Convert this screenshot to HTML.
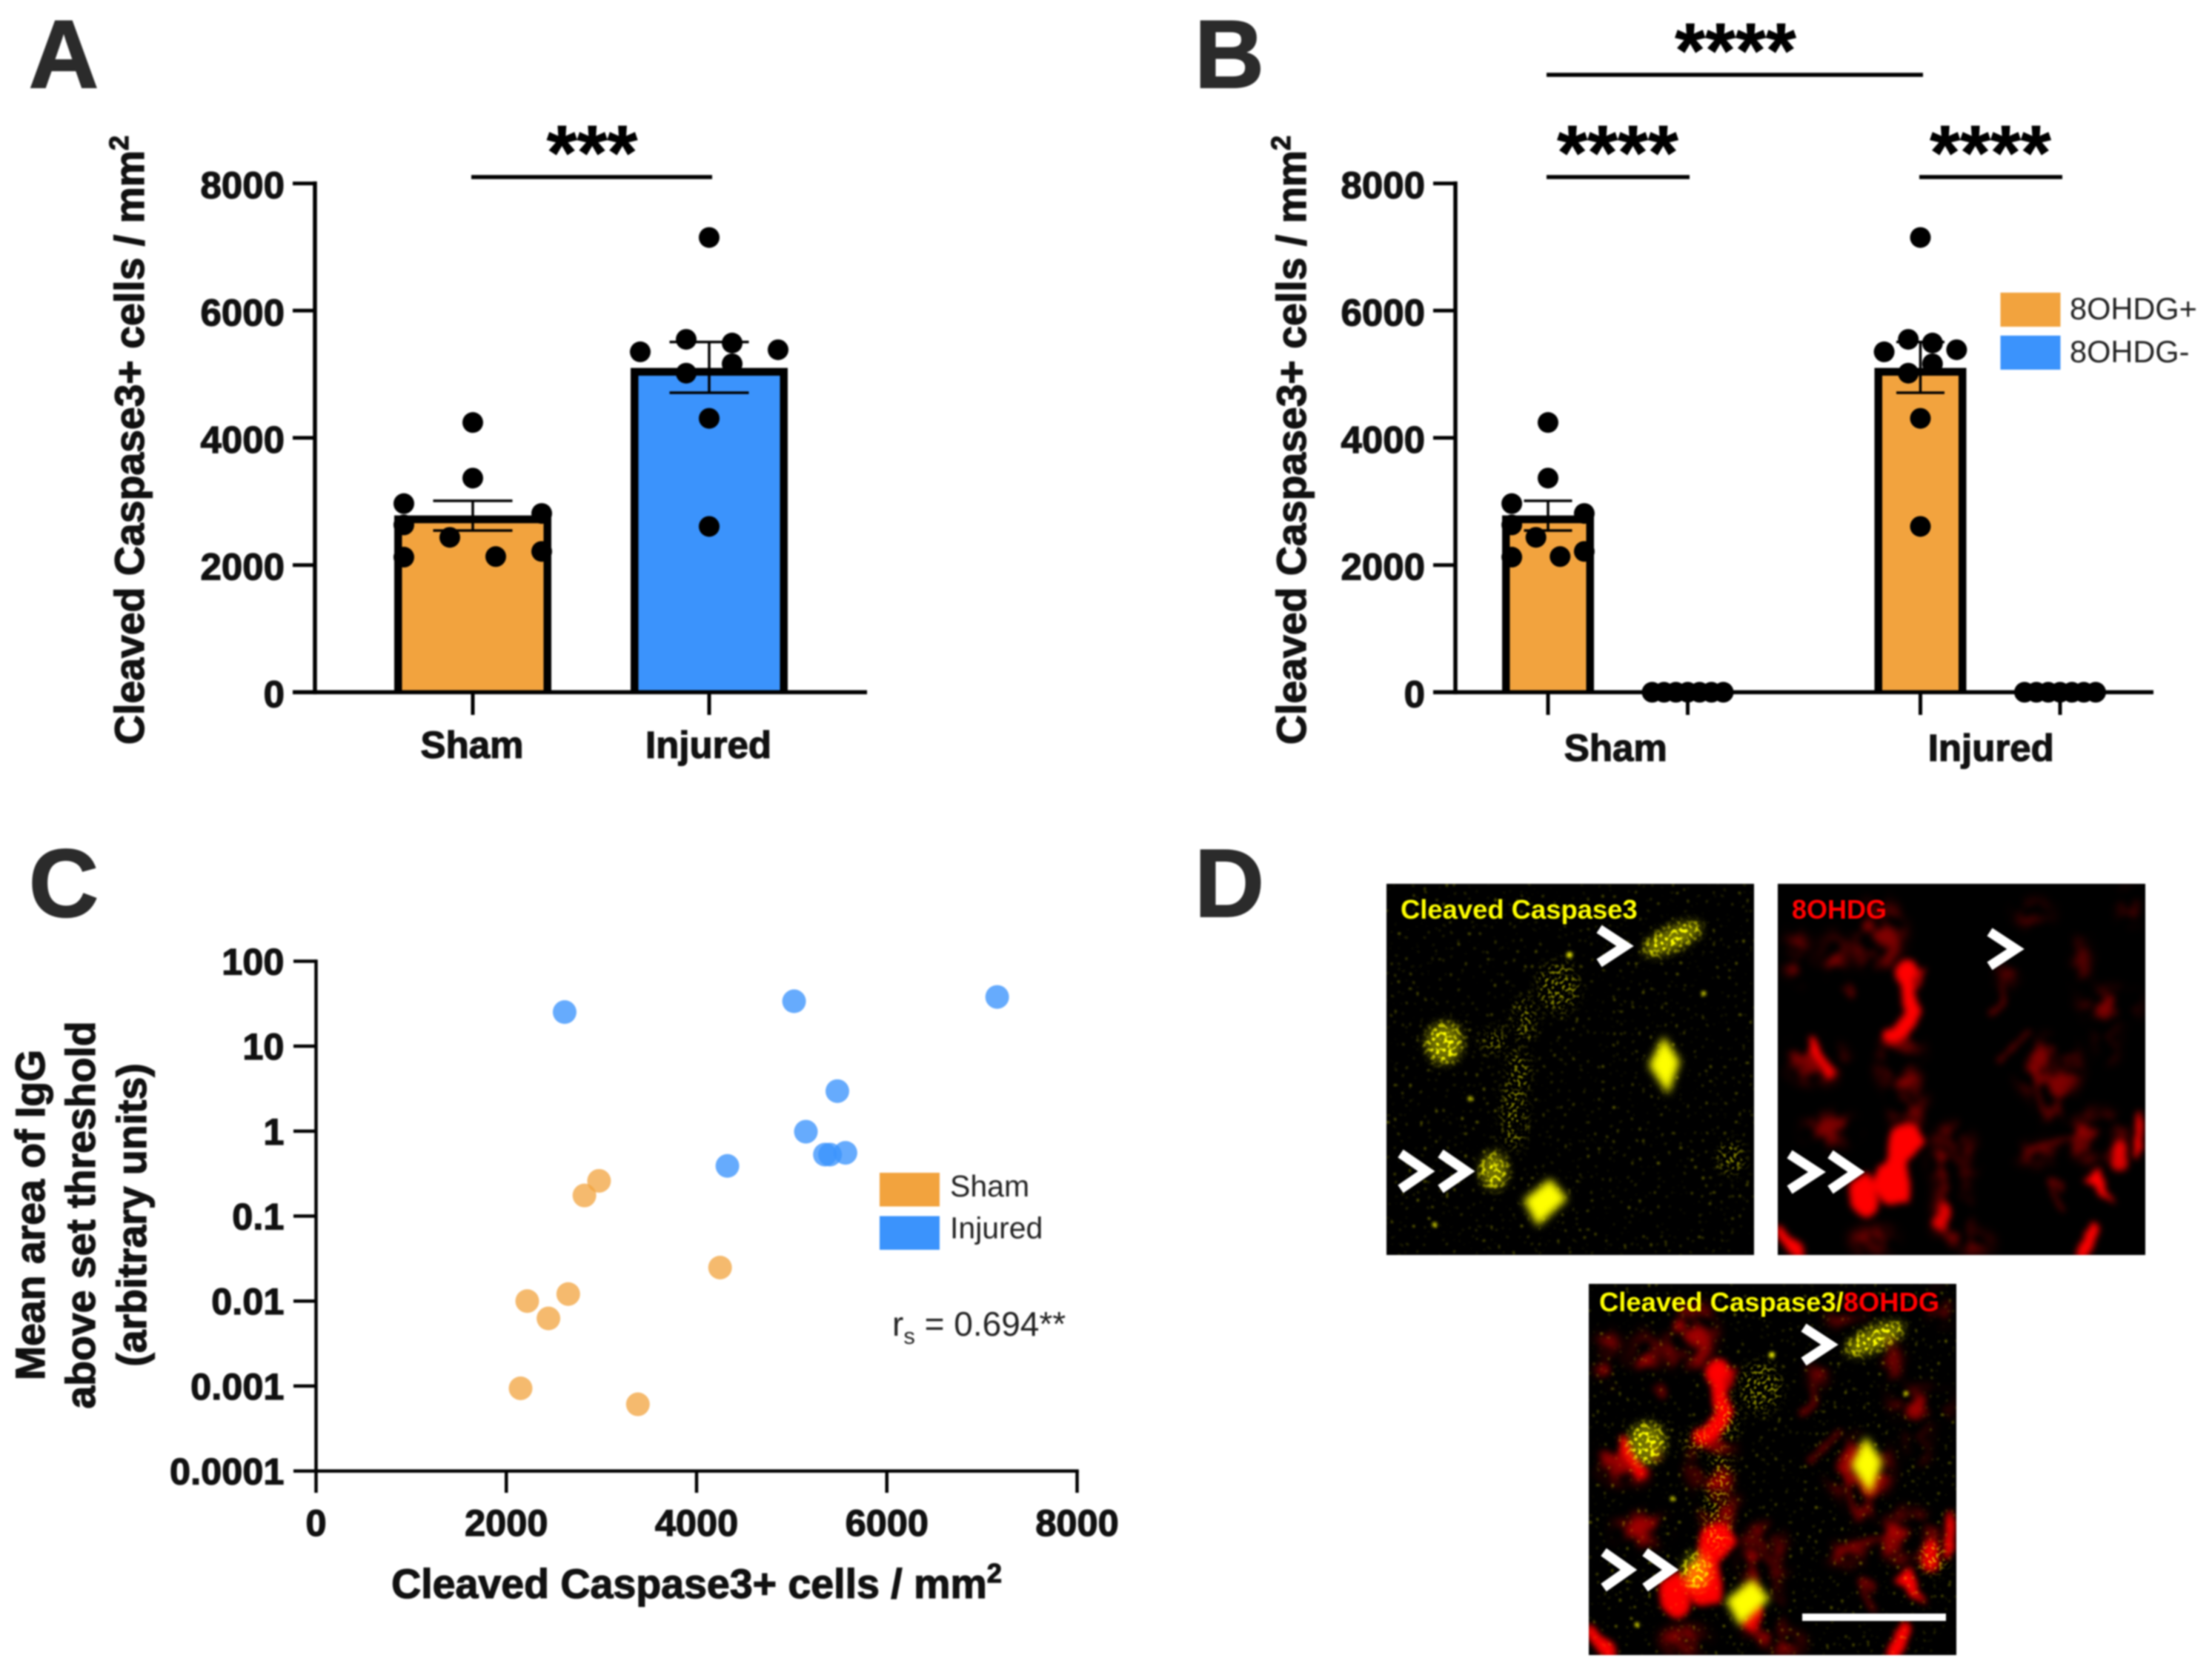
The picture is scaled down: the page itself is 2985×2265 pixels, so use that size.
<!DOCTYPE html>
<html lang="en">
<head>
<meta charset="utf-8">
<title>Cleaved Caspase3 figure</title>
<style>
html,body{margin:0;padding:0;background:#fff;}
#figure{display:block;position:absolute;left:0;top:0;filter:blur(1px);}
text{font-family:"Liberation Sans",sans-serif;}
#chart-a text[font-weight="700"],#chart-b text[font-weight="700"],#chart-c text[font-weight="700"]{stroke:#111;stroke-width:1.3px;}
.panel-letter{stroke:#2b2b2b;stroke-width:2px;}
.sig-stars{stroke:#000 !important;stroke-width:0.8px !important;}
</style>
</head>
<body>
<svg id="figure" xmlns="http://www.w3.org/2000/svg" width="2985" height="2265" viewBox="0 0 2985 2265">
<defs>
  <filter id="redSharp" x="-10%" y="-10%" width="120%" height="120%" color-interpolation-filters="sRGB">
    <feTurbulence type="fractalNoise" baseFrequency="0.04" numOctaves="2" seed="4" result="n"/>
    <feDisplacementMap in="SourceGraphic" in2="n" scale="16" xChannelSelector="R" yChannelSelector="G" result="d"/>
    <feGaussianBlur in="d" stdDeviation="4.5"/>
  </filter>
  <filter id="redSoft" x="-10%" y="-10%" width="120%" height="120%" color-interpolation-filters="sRGB">
    <feTurbulence type="fractalNoise" baseFrequency="0.035" numOctaves="2" seed="9" result="n"/>
    <feColorMatrix in="n" type="matrix" values="0 0 0 0 1  0 0 0 0 0  0 0 0 0 0  3.5 0 0 0 -1.35" result="mask"/>
    <feGaussianBlur in="SourceGraphic" stdDeviation="8" result="b"/>
    <feComposite in="b" in2="mask" operator="in" result="p"/>
    <feGaussianBlur in="p" stdDeviation="4"/>
  </filter>
  <filter id="bgSpeck" x="0" y="0" width="100%" height="100%" color-interpolation-filters="sRGB">
    <feTurbulence type="fractalNoise" baseFrequency="0.2" numOctaves="1" seed="7" result="n"/>
    <feColorMatrix in="n" type="matrix" values="0 0 0 0 1  0 0 0 0 1  0 0 0 0 0  14 0 0 0 -9.4"/>
    <feGaussianBlur stdDeviation="1"/>
  </filter>
  <filter id="blobSpeck" x="-40%" y="-40%" width="180%" height="180%" color-interpolation-filters="sRGB">
    <feGaussianBlur in="SourceGraphic" stdDeviation="6" result="b"/>
    <feTurbulence type="fractalNoise" baseFrequency="0.18" numOctaves="1" seed="11" result="n"/>
    <feColorMatrix in="n" type="matrix" values="0 0 0 0 1  0 0 0 0 1  0 0 0 0 0  6 0 0 0 -2.9" result="t"/>
    <feComposite in="t" in2="b" operator="in" result="s"/>
    <feComponentTransfer in="b" result="c"><feFuncA type="linear" slope="0.45"/></feComponentTransfer>
    <feMerge><feMergeNode in="c"/><feMergeNode in="s"/></feMerge>
  </filter>
  <filter id="solidBlob" x="-50%" y="-50%" width="200%" height="200%"><feGaussianBlur stdDeviation="5.5"/></filter>
  <filter id="tinyBlob" x="-100%" y="-100%" width="300%" height="300%"><feGaussianBlur stdDeviation="2"/></filter>
  <filter id="trailSpeck" x="-30%" y="-30%" width="160%" height="160%" color-interpolation-filters="sRGB">
    <feGaussianBlur in="SourceGraphic" stdDeviation="7" result="b"/>
    <feTurbulence type="fractalNoise" baseFrequency="0.22" numOctaves="1" seed="5" result="n"/>
    <feColorMatrix in="n" type="matrix" values="0 0 0 0 1  0 0 0 0 1  0 0 0 0 0  7 0 0 0 -3.6" result="t"/>
    <feComposite in="t" in2="b" operator="in"/>
  </filter>

  <g id="red-layer">
    <g filter="url(#redSoft)" fill="#ff0000" opacity="0.5">
      <ellipse cx="135" cy="70" rx="35" ry="48"/>
      <ellipse cx="25" cy="100" rx="14" ry="36"/>
      <ellipse cx="75" cy="95" rx="16" ry="28"/>
      <ellipse cx="50" cy="240" rx="42" ry="28"/>
      <ellipse cx="165" cy="240" rx="30" ry="42"/>
      <ellipse cx="175" cy="295" rx="22" ry="42"/>
      <ellipse cx="345" cy="40" rx="25" ry="14"/>
      <ellipse cx="477" cy="30" rx="16" ry="22"/>
      <ellipse cx="449" cy="164" rx="42" ry="20"/>
      <ellipse cx="366" cy="250" rx="42" ry="42"/>
      <ellipse cx="375" cy="300" rx="20" ry="30"/>
      <ellipse cx="235" cy="370" rx="30" ry="45"/>
      <ellipse cx="70" cy="330" rx="36" ry="22"/>
      <ellipse cx="235" cy="445" rx="24" ry="42"/>
      <ellipse cx="130" cy="480" rx="30" ry="20"/>
      <ellipse cx="265" cy="485" rx="24" ry="14"/>
      <ellipse cx="430" cy="345" rx="40" ry="38"/>
      <ellipse cx="350" cy="365" rx="26" ry="12"/>
      <ellipse cx="310" cy="120" rx="10" ry="22"/>
      <ellipse cx="410" cy="105" rx="8" ry="35"/>
      <ellipse cx="445" cy="210" rx="12" ry="30"/>
    </g>
    <g filter="url(#redSharp)" fill="none" stroke="#c00000" stroke-width="6" stroke-linecap="round" opacity="0.5">
      <path d="M300 240 C315 225 325 205 340 200"/>
      <path d="M290 175 C300 165 310 155 305 140"/>
      <path d="M345 240 C355 270 350 290 360 305"/>
      <path d="M340 360 C375 345 400 350 415 330"/>
      <path d="M385 415 C375 395 360 390 380 435"/>
      <path d="M90 140 C98 150 105 165 100 135"/>
    </g>
    <g filter="url(#redSharp)" fill="#ff0000">
      <path d="M176 112 C166 130 178 150 182 170 C184 186 170 196 155 205" fill="none" stroke="#ff0000" stroke-width="20" stroke-linecap="round"/>
      <path d="M182 118 L200 112 L186 146 Z" opacity="0.7"/>
      <polygon points="150,330 185,322 200,345 175,375 178,432 140,428 128,395 150,368"/>
      <ellipse cx="116" cy="422" rx="19" ry="30"/>
      <ellipse cx="223" cy="448" rx="10" ry="20" opacity="0.85"/>
      <path d="M45 215 L70 255" stroke="#ff0000" stroke-width="12" stroke-linecap="round"/>
      <polygon points="412,398 435,384 454,432 430,410"/>
      <ellipse cx="460" cy="367" rx="12" ry="22" opacity="0.85"/>
      <ellipse cx="488" cy="340" rx="6" ry="34"/>
      <path d="M428 465 L410 500" stroke="#ff0000" stroke-width="13" stroke-linecap="round"/>
      <path d="M3 468 L28 498" stroke="#ff0000" stroke-width="14" stroke-linecap="round"/>
    </g>
  </g>

  <g id="yellow-layer">
    <rect x="0" y="0" width="496" height="501" fill="#fff" filter="url(#bgSpeck)" opacity="0.4"/>
    <g filter="url(#trailSpeck)" fill="#ffff00" opacity="0.5">
      <ellipse cx="232" cy="140" rx="28" ry="34"/>
      <ellipse cx="186" cy="184" rx="14" ry="30"/>
      <ellipse cx="145" cy="212" rx="16" ry="16"/>
      <ellipse cx="179" cy="253" rx="14" ry="30"/>
      <ellipse cx="172" cy="310" rx="16" ry="48"/>
      <ellipse cx="465" cy="370" rx="18" ry="22"/>
    </g>
    <g filter="url(#blobSpeck)" fill="#ffff00">
      <ellipse cx="386" cy="74" rx="42" ry="15" transform="rotate(-25 386 74)"/>
      <ellipse cx="78" cy="215" rx="24" ry="27"/>
      <ellipse cx="145" cy="387" rx="18" ry="24"/>
    </g>
    <g filter="url(#solidBlob)" fill="#ffff00">
      <polygon points="374,206 396,240 380,284 354,245"/>
      <polygon points="221,398 244,425 204,462 185,427"/>
    </g>
    <g filter="url(#tinyBlob)" fill="#ffff00">
      <circle cx="247" cy="96" r="4"/>
      <circle cx="113" cy="290" r="3"/>
      <circle cx="428" cy="148" r="3"/>
      <circle cx="65" cy="460" r="3"/>
    </g>
  </g>
</defs>

<rect x="0" y="0" width="2985" height="2265" fill="#ffffff"/>

<text class="panel-letter" x="39" y="118" font-size="130" font-weight="700" fill="#2b2b2b">A</text>
<text class="panel-letter" x="1612" y="118" font-size="130" font-weight="700" fill="#2b2b2b">B</text>
<text class="panel-letter" x="39" y="1237" font-size="130" font-weight="700" fill="#2b2b2b">C</text>
<text class="panel-letter" x="1612" y="1237" font-size="130" font-weight="700" fill="#2b2b2b">D</text>

<g id="chart-a"></g>
<g id="chart-b"></g>
<g id="chart-c"></g>

<svg x="1871" y="1193" width="496" height="501" viewBox="0 0 496 501">
  <rect width="496" height="501" fill="#000"/>
  <use href="#yellow-layer"/>
  <text x="19" y="47" font-size="36.4" font-weight="700" fill="#ffff00">Cleaved Caspase3</text>
  <g fill="none" stroke="#fff" stroke-width="13" stroke-linejoin="miter">
    <polyline points="287,61 322,84 287,107"/>
    <polyline points="19,364 54,388 19,412"/>
    <polyline points="73,364 108,388 73,412"/>
  </g>
</svg>

<svg x="2399" y="1193" width="496" height="501" viewBox="0 0 496 501">
  <rect width="496" height="501" fill="#000"/>
  <use href="#red-layer"/>
  <text x="19" y="47" font-size="36" font-weight="700" fill="#ff0000">8OHDG</text>
  <g fill="none" stroke="#fff" stroke-width="13" stroke-linejoin="miter">
    <polyline points="286,65 321,88 286,111"/>
    <polyline points="16,365 53,389 16,413"/>
    <polyline points="71,365 106,389 71,413"/>
  </g>
</svg>

<svg x="2144" y="1733" width="496" height="501" viewBox="0 0 496 501">
  <rect width="496" height="501" fill="#000"/>
  <use href="#red-layer"/>
  <use href="#red-layer" opacity="0.5"/>
  <use href="#yellow-layer"/>
  <text x="14" y="37" font-size="36.4" font-weight="700"><tspan fill="#ffff00">Cleaved Caspase3/</tspan><tspan fill="#ff0000">8OHDG</tspan></text>
  <g fill="none" stroke="#fff" stroke-width="13" stroke-linejoin="miter">
    <polyline points="290,59 325,82 290,105"/>
    <polyline points="20,362 54,386 20,410"/>
    <polyline points="76,362 110,386 76,410"/>
  </g>
  <rect x="288" y="445" width="194" height="10" fill="#fff"/>
</svg>
</svg>

<script>
// ---- shared bar chart data ----
const barYTicks = [0, 2000, 4000, 6000, 8000];
const barCategories = ['Sham', 'Injured'];
const barMeans = [2780, 5100];
const barErrLow = [2543, 4709];
const barErrHigh = [3010, 5507];
const shamDots = [4241, 3367, 2966, 2811, 2631, 2435, 2124, 2133, 2214];
const shamSlots = [0, 0, -3, 3, -3, -1, -3, 1, 3];
const injuredDots = [7150, 5548, 5491, 5352, 5385, 5164, 5017, 4306, 2607];
const injuredSlots = [0, -1, 1, -3, 3, 1, -1, 0, 0];
const negativeDots = [0, 0, 0, 0, 0, 0, 0];
const negativeSlots = [-3, -2, -1, 0, 1, 2, 3];
const legendB = ['8OHDG+', '8OHDG-'];

// ---- scatter data ----
const scatterXTicks = [0, 2000, 4000, 6000, 8000];
const scatterYTicks = [100, 10, 1, 0.1, 0.01, 0.001, 0.0001];
const scatterYLabels = ['100', '10', '1', '0.1', '0.01', '0.001', '0.0001'];
const scatterShamX = [2150, 3383, 2220, 2443, 2651, 2821, 2975, 4247];
const scatterShamY = [0.00094, 0.00061, 0.01, 0.00625, 0.0121, 0.175, 0.26, 0.0248];
const scatterInjuredX = [2613, 5025, 7160, 5480, 5149, 5565, 5349, 5403, 4324];
const scatterInjuredY = [25.2, 33.8, 38, 2.96, 0.986, 0.556, 0.53, 0.53, 0.39];
const legendC = ['Sham', 'Injured'];

const NS = 'http://www.w3.org/2000/svg';
const ORANGE = '#f2a33e';
const BLUE = '#3b93fc';

function mk(parent, tag, attrs, name, txt) {
  const el = document.createElementNS(NS, tag);
  for (const k in attrs) el.setAttribute(k, attrs[k]);
  
  
  if (txt !== undefined) el.textContent = txt;
  parent.appendChild(el);
  return el;
}
function line(p, x1, y1, x2, y2, w, name, color) {
  return mk(p, 'line', {x1, y1, x2, y2, stroke: color || '#000', 'stroke-width': w}, name);
}
function yTitle(p, x, y) {
  const t = mk(p, 'text', {x, y, 'font-size': 55.4, 'font-weight': 700, 'text-anchor': 'middle', fill: '#111',
    transform: 'rotate(-90 ' + x + ' ' + y + ')'}, 'y-axis-title', 'Cleaved Caspase3+ cells / mm');
  mk(t, 'tspan', {'font-size': 36, dy: -21}, 'y-axis-title-superscript', '2');
  return t;
}
function stars(p, cx, cy, n, name) {
  mk(p, 'text', {x: cx, y: cy + 51, 'font-size': 105, 'font-weight': 700, 'text-anchor': 'middle', fill: '#000', class: 'sig-stars'},
     name, '*'.repeat(n));
}

// shared value axis for A and B
const yBar = v => 934.4 - v * (686.8 / 8000);

function barYAxis(p, axisX, endX) {
  line(p, axisX, yBar(8000) - 2.7, axisX, yBar(0) + 2.7, 5.5, 'y-axis-line');
  line(p, axisX - 30, yBar(0), endX, yBar(0), 5.5, 'x-axis-line');
  barYTicks.forEach(t => {
    line(p, axisX - 30, yBar(t), axisX, yBar(t), 5, 'y-axis-tick');
    mk(p, 'text', {x: axisX - 41, y: yBar(t) + 20, 'font-size': 51, 'font-weight': 700, 'text-anchor': 'end', fill: '#111'},
       'y-tick-label', String(t));
  });
}
function drawBar(p, cx, outerW, v, color, name) {
  const sw = 10.5;
  const left = cx - outerW / 2 + sw / 2;
  const right = cx + outerW / 2 - sw / 2;
  const top = yBar(v) + sw / 2;
  mk(p, 'path', {d: 'M' + left + ' ' + yBar(0) + ' V' + top + ' H' + right + ' V' + yBar(0),
    fill: color, stroke: '#000', 'stroke-width': sw}, name);
}
function drawError(p, cx, capW, lo, hi) {
  line(p, cx, yBar(lo), cx, yBar(hi), 3.5, 'error-bar-stem');
  line(p, cx - capW / 2, yBar(hi), cx + capW / 2, yBar(hi), 3.5, 'error-bar-cap-upper');
  line(p, cx - capW / 2, yBar(lo), cx + capW / 2, yBar(lo), 3.5, 'error-bar-cap-lower');
}
function drawDots(p, cx, step, values, slots, name) {
  values.forEach((v, i) => {
    mk(p, 'circle', {cx: cx + slots[i] * step, cy: yBar(v), r: 14, fill: '#000'}, name);
  });
}

// ---- Panel A ----
(function () {
  const p = document.getElementById('chart-a');
  const xCat = i => 638 + i * 319;
  const colors = [ORANGE, BLUE];
  yTitle(p, 194, 594);
  barCategories.forEach((c, i) => {
    drawBar(p, xCat(i), 212, barMeans[i], colors[i], 'bar-' + c.toLowerCase());
    drawError(p, xCat(i), 107, barErrLow[i], barErrHigh[i]);
    line(p, xCat(i), yBar(0), xCat(i), 965, 5, 'x-axis-tick');
    mk(p, 'text', {x: xCat(i) - 1, y: 1023, 'font-size': 51, 'font-weight': 700, 'text-anchor': 'middle', fill: '#111'},
       'x-tick-label', c);
  });
  drawDots(p, xCat(0), 31, shamDots, shamSlots, 'dot-sham');
  drawDots(p, xCat(1), 31, injuredDots, injuredSlots, 'dot-injured');
  barYAxis(p, 425, 1170);
  line(p, 636, 239, 961, 239, 5.5, 'significance-bracket');
  stars(p, 799, 191, 3, 'significance-stars');
})();

// ---- Panel B ----
(function () {
  const p = document.getElementById('chart-b');
  const xB = (g, s) => 2089 + g * 502.5 + s * 188.5;
  yTitle(p, 1762, 594);
  barCategories.forEach((c, i) => {
    drawBar(p, xB(i, 0), 124, barMeans[i], ORANGE, 'bar-' + c.toLowerCase() + '-8ohdg-positive');
    drawError(p, xB(i, 0), 65, barErrLow[i], barErrHigh[i]);
    line(p, xB(i, 0), yBar(0), xB(i, 0), 965, 5, 'x-axis-tick');
    line(p, xB(i, 1), yBar(0), xB(i, 1), 965, 5, 'x-axis-tick');
    mk(p, 'text', {x: (xB(i, 0) + xB(i, 1)) / 2 + (i ? 1 : -3), y: 1027, 'font-size': 51, 'font-weight': 700, 'text-anchor': 'middle', fill: '#111'},
       'x-tick-label', c);
  });
  barYAxis(p, 1964, 2906);
  drawDots(p, xB(0, 0), 16.3, shamDots, shamSlots, 'dot-sham-positive');
  drawDots(p, xB(1, 0), 16.3, injuredDots, injuredSlots, 'dot-injured-positive');
  drawDots(p, xB(0, 1), 16, negativeDots, negativeSlots, 'dot-sham-negative');
  drawDots(p, xB(1, 1), 16, negativeDots, negativeSlots, 'dot-injured-negative');
  line(p, 2087, 101, 2595, 101, 5.5, 'significance-bracket-top');
  stars(p, 2342, 53, 4, 'significance-stars-top');
  line(p, 2087, 239, 2280, 239, 5.5, 'significance-bracket-sham');
  stars(p, 2183, 191, 4, 'significance-stars-sham');
  line(p, 2590, 239, 2783, 239, 5.5, 'significance-bracket-injured');
  stars(p, 2686, 191, 4, 'significance-stars-injured');
  [ORANGE, BLUE].forEach((col, i) => {
    mk(p, 'rect', {x: 2699.5, y: 395 + i * 58, width: 81, height: 46, fill: col}, 'legend-swatch');
    mk(p, 'text', {x: 2793, y: 431 + i * 58, 'font-size': 41.5, fill: '#222'}, 'legend-entry', legendB[i]);
  });
})();

// ---- Panel C ----
(function () {
  const p = document.getElementById('chart-c');
  const xS = v => 426.5 + v * (1027 / 8000);
  const yS = v => 1297.5 + (2 - Math.log10(v)) * (688.1 / 6);

  [['Mean area of IgG', 60], ['above set threshold', 128], ['(arbitrary units)', 197]].forEach(function (l) {
    mk(p, 'text', {x: l[1], y: 1640, 'font-size': 55.4, 'font-weight': 700, 'text-anchor': 'middle', fill: '#111',
      transform: 'rotate(-90 ' + l[1] + ' 1640)'}, 'y-axis-title', l[0]);
  });
  const xt = mk(p, 'text', {x: 940, y: 2157, 'font-size': 55.5, 'font-weight': 700, 'text-anchor': 'middle', fill: '#111'},
                'x-axis-title', 'Cleaved Caspase3+ cells / mm');
  mk(xt, 'tspan', {'font-size': 36, dy: -21}, 'x-axis-title-superscript', '2');

  scatterShamX.forEach((x, i) => {
    mk(p, 'circle', {cx: xS(x), cy: yS(scatterShamY[i]), r: 16, fill: ORANGE, 'fill-opacity': 0.75}, 'point-sham');
  });
  scatterInjuredX.forEach((x, i) => {
    mk(p, 'circle', {cx: xS(x), cy: yS(scatterInjuredY[i]), r: 16, fill: BLUE, 'fill-opacity': 0.78}, 'point-injured');
  });

  line(p, xS(0), yS(100) - 2.3, xS(0), yS(0.0001) + 2.3, 4.5, 'y-axis-line');
  line(p, xS(0) - 2.3, yS(0.0001), xS(8000) + 2.3, yS(0.0001), 4.5, 'x-axis-line');
  scatterYTicks.forEach((t, i) => {
    line(p, 396, yS(t), xS(0), yS(t), 4.5, 'y-axis-tick');
    mk(p, 'text', {x: 383.5, y: yS(t) + 18, 'font-size': 50.5, 'font-weight': 700, 'text-anchor': 'end', fill: '#111'},
       'y-tick-label', scatterYLabels[i]);
  });
  scatterXTicks.forEach(t => {
    line(p, xS(t), yS(0.0001), xS(t), 2015, 4.5, 'x-axis-tick');
    mk(p, 'text', {x: xS(t), y: 2073, 'font-size': 50.5, 'font-weight': 700, 'text-anchor': 'middle', fill: '#111'},
       'x-tick-label', String(t));
  });

  [ORANGE, BLUE].forEach((col, i) => {
    mk(p, 'rect', {x: 1187, y: 1583 + i * 58.5, width: 81, height: 45.5, fill: col}, 'legend-swatch');
    mk(p, 'text', {x: 1282, y: 1615 + i * 58.5 - (i ? 2 : 0), 'font-size': 41, fill: '#222'}, 'legend-entry', legendC[i]);
  });
  const rs = mk(p, 'text', {x: 1204, y: 1803, 'font-size': 46, fill: '#222'}, 'correlation-label', 'r');
  mk(rs, 'tspan', {'font-size': 31, dy: 11}, 'correlation-label-subscript', 's');
  mk(rs, 'tspan', {dy: -11}, 'correlation-label-value', ' = 0.694**');
})();
</script>
</body>
</html>
